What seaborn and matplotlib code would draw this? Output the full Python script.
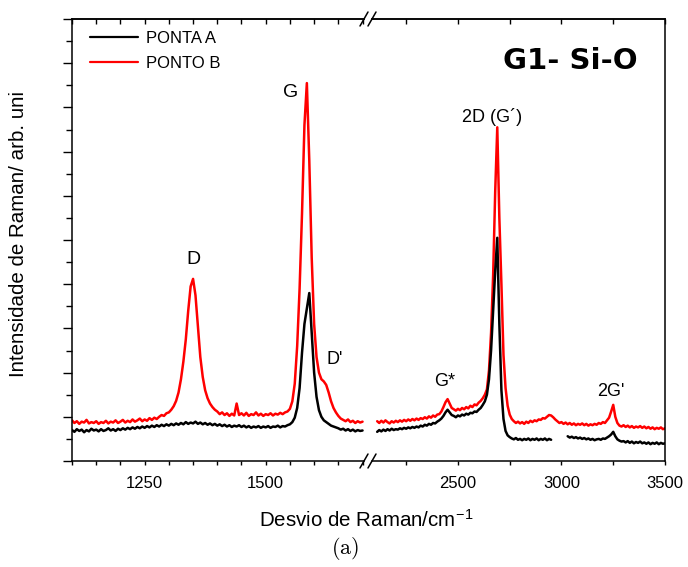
import numpy as np
import pandas as pd
import matplotlib
matplotlib.use("Agg")
import matplotlib.pyplot as plt
import seaborn as sns
from matplotlib.ticker import MultipleLocator, FixedLocator, NullFormatter
from matplotlib.lines import Line2D

# ---------------- data ----------------
series_names = ["PONTA A", "PONTO B"]
series_colors = ["#000000", "#ff0000"]

# left segment of the broken axis: 1100-1700 cm-1, step 5
raman_left = np.arange(1100, 1705, 5)
ponta_a_left = [
    0.70, 0.66, 0.72, 0.68, 0.71, 0.65, 0.70, 0.67, 0.73, 0.69,
    0.71, 0.67, 0.72, 0.68, 0.70, 0.74, 0.69, 0.72, 0.68, 0.73,
    0.70, 0.74, 0.71, 0.75, 0.72, 0.76, 0.73, 0.77, 0.74, 0.78,
    0.75, 0.79, 0.76, 0.80, 0.77, 0.81, 0.78, 0.82, 0.79, 0.83,
    0.80, 0.84, 0.81, 0.85, 0.82, 0.86, 0.83, 0.88, 0.84, 0.87,
    0.85, 0.89, 0.84, 0.87, 0.83, 0.86, 0.82, 0.85, 0.81, 0.84,
    0.80, 0.83, 0.79, 0.82, 0.78, 0.81, 0.77, 0.80, 0.78, 0.81,
    0.77, 0.80, 0.76, 0.79, 0.75, 0.78, 0.76, 0.79, 0.75, 0.78,
    0.76, 0.79, 0.75, 0.78, 0.77, 0.80, 0.76, 0.79, 0.78, 0.81,
    0.83, 0.88, 0.98, 1.20, 1.65, 2.45, 3.10, 3.45, 3.80, 2.90,
    2.00, 1.45, 1.15, 1.00, 0.92, 0.88, 0.84, 0.80, 0.78, 0.76,
    0.74, 0.71, 0.73, 0.69, 0.72, 0.68, 0.71, 0.67, 0.70, 0.68,
    0.69,
]
ponto_b_left = [
    0.92, 0.86, 0.90, 0.84, 0.89, 0.87, 0.93, 0.85, 0.88, 0.86,
    0.90, 0.84, 0.88, 0.86, 0.91, 0.85, 0.89, 0.87, 0.92, 0.86,
    0.89, 0.93, 0.87, 0.91, 0.88, 0.94, 0.89, 0.92, 0.96, 0.90,
    0.94, 0.91, 0.97, 0.93, 0.98, 0.95, 1.00, 1.04, 1.02, 1.08,
    1.10, 1.16, 1.24, 1.36, 1.55, 1.85, 2.25, 2.75, 3.40, 3.95,
    4.12, 3.75, 3.05, 2.35, 1.90, 1.60, 1.42, 1.30, 1.22, 1.16,
    1.12, 1.06, 1.10, 1.04, 1.08, 1.02, 1.07, 1.03, 1.30, 1.04,
    1.08, 1.03, 1.09, 1.02, 1.06, 1.04, 1.10, 1.03, 1.07, 1.02,
    1.06, 1.04, 1.08, 1.03, 1.07, 1.05, 1.09, 1.06, 1.10, 1.12,
    1.18, 1.35, 1.75, 2.60, 3.90, 5.60, 7.60, 8.55, 6.80, 4.60,
    3.10, 2.35, 2.00, 1.85, 1.80, 1.72, 1.55, 1.35, 1.20, 1.10,
    1.02, 0.96, 0.93, 0.90, 0.94, 0.88, 0.91, 0.86, 0.90, 0.87,
    0.89,
]

# right segment of the broken axis: 2110-3500 cm-1, step 10 (nan = no data)
raman_right = np.arange(2110, 3510, 10)
ponta_a_right = [
    0.66, 0.70, 0.67, 0.71, 0.68, 0.72, 0.69, 0.73, 0.70, 0.72,
    0.71, 0.74, 0.72, 0.75, 0.73, 0.76, 0.74, 0.77, 0.75, 0.78,
    0.76, 0.80, 0.78, 0.82, 0.80, 0.84, 0.82, 0.86, 0.85, 0.89,
    0.92, 0.96, 1.02, 1.10, 1.16, 1.10, 1.04, 1.02, 0.99, 1.03,
    1.01, 1.05, 1.03, 1.07, 1.05, 1.09, 1.08, 1.12, 1.11, 1.16,
    1.20, 1.27, 1.35, 1.50, 1.85, 2.50, 3.40, 4.30, 5.05, 3.10,
    1.60, 0.95, 0.68, 0.58, 0.54, 0.51, 0.49, 0.52, 0.48, 0.50,
    0.47, 0.50, 0.48, 0.51, 0.47, 0.50, 0.48, 0.51, 0.47, 0.50,
    0.48, 0.51, 0.47, 0.50, 0.48, np.nan, np.nan, np.nan, np.nan, np.nan,
    np.nan, np.nan, 0.56, 0.53, 0.55, 0.52, 0.54, 0.51, 0.53, 0.50,
    0.52, 0.49, 0.51, 0.48, 0.50, 0.47, 0.49, 0.50, 0.48, 0.51,
    0.50, 0.53, 0.56, 0.60, 0.66, 0.56, 0.49, 0.46, 0.44, 0.45,
    0.42, 0.45, 0.41, 0.44, 0.40, 0.43, 0.41, 0.44, 0.40, 0.42,
    0.39, 0.42, 0.38, 0.41, 0.39, 0.42, 0.38, 0.41, 0.39, 0.40,
]
ponto_b_right = [
    0.90, 0.86, 0.91, 0.87, 0.92, 0.88, 0.85, 0.90, 0.87, 0.91,
    0.88, 0.92, 0.89, 0.93, 0.90, 0.94, 0.91, 0.95, 0.92, 0.96,
    0.93, 0.97, 0.95, 0.99, 0.96, 1.01, 0.98, 1.03, 1.00, 1.05,
    1.06, 1.12, 1.22, 1.33, 1.40, 1.30, 1.20, 1.17, 1.14, 1.18,
    1.15, 1.20, 1.17, 1.22, 1.19, 1.25, 1.22, 1.28, 1.26, 1.32,
    1.36, 1.42, 1.50, 1.62, 2.05, 2.90, 4.20, 6.10, 7.55, 5.50,
    4.00, 2.40, 1.65, 1.25, 1.05, 0.95, 0.90, 0.86, 0.89, 0.85,
    0.88, 0.84, 0.89, 0.86, 0.91, 0.88, 0.92, 0.90, 0.94, 0.93,
    0.97, 0.96, 1.00, 1.04, 1.03, 0.99, 0.94, 0.90, 0.86, 0.88,
    0.84, 0.87, 0.83, 0.86, 0.82, 0.85, 0.81, 0.84, 0.82, 0.85,
    0.81, 0.84, 0.80, 0.83, 0.81, 0.84, 0.82, 0.86, 0.84, 0.88,
    0.86, 0.92, 0.98, 1.12, 1.27, 1.00, 0.86, 0.80, 0.78, 0.81,
    0.77, 0.80, 0.76, 0.79, 0.75, 0.78, 0.76, 0.79, 0.75, 0.78,
    0.74, 0.77, 0.73, 0.76, 0.72, 0.75, 0.73, 0.76, 0.72, 0.74,
]

left_ticks = [1250, 1500]
right_ticks = [2500, 3000, 3500]
right_minor = [2250, 2750, 3250]

peak_labels = ["D", "G", "D'"]
peak_label_x = [1350, 1551, 1643]
peak_label_y = [4.55, 8.33, 2.29]
peak_labels_r = ["G*", "2D (G\u00b4)", "2G'"]
peak_label_x_r = [2437, 2664, 3239]
peak_label_y_r = [1.79, 7.78, 1.58]

assert len(ponta_a_left) == len(raman_left) == len(ponto_b_left)
assert len(ponta_a_right) == len(raman_right) == len(ponto_b_right)


def long_frame(x, a, b):
    df = pd.DataFrame({"x": x, series_names[0]: a, series_names[1]: b})
    df = df.melt(id_vars="x", var_name="serie", value_name="y")
    # separate contiguous runs so that gaps (nan) are not bridged
    df["seg"] = df.groupby("serie")["y"].transform(lambda s: s.isna().cumsum())
    return df.dropna()


df_left = long_frame(raman_left, ponta_a_left, ponto_b_left)
df_right = long_frame(raman_right, ponta_a_right, ponto_b_right)

# ---------------- style ----------------
sns.set_style("white")
plt.rcParams["font.family"] = ["Liberation Sans", "DejaVu Sans"]
plt.rcParams["mathtext.fontset"] = "cm"
plt.rcParams["axes.linewidth"] = 1.1
plt.rcParams["text.color"] = "black"
plt.rcParams["axes.labelcolor"] = "black"
plt.rcParams["xtick.color"] = "black"
plt.rcParams["ytick.color"] = "black"
plt.rcParams["axes.edgecolor"] = "black"

W, H = 688, 567
fig = plt.figure(figsize=(W / 100, H / 100), dpi=100)

def fx(px):
    return px / W

def fy(py):
    return 1 - py / H

ax_l = fig.add_axes([fx(72), fy(461), fx(364) - fx(72), fy(19) - fy(461)])
ax_r = fig.add_axes([fx(372), fy(461), fx(665) - fx(372), fy(19) - fy(461)])

for ax, df in ((ax_l, df_left), (ax_r, df_right)):
    for name, col in zip(series_names[::-1], series_colors[::-1]):
        sub = df[df["serie"] == name]
        sns.lineplot(data=sub, x="x", y="y", units="seg", estimator=None,
                     color=col, linewidth=1.8, ax=ax, legend=False)
    ax.set_ylim(0, 10)
    ax.set_xlabel("")
    ax.set_ylabel("")
    for sp in ax.spines.values():
        sp.set_color("black")

ax_l.set_xlim(1100, 1703)
ax_r.set_xlim(2085, 3500)

ax_l.spines["right"].set_visible(False)
ax_r.spines["left"].set_visible(False)
ax_r.spines["right"].set_visible(True)

ax_l.xaxis.set_major_locator(FixedLocator(left_ticks))
ax_l.xaxis.set_minor_locator(MultipleLocator(50))
ax_r.xaxis.set_major_locator(FixedLocator(right_ticks))
ax_r.xaxis.set_minor_locator(FixedLocator(right_minor))

for ax in (ax_l, ax_r):
    ax.tick_params(axis="x", which="both", direction="out", length=3,
                   width=1.0, labelsize=12, pad=8, colors="black",
                   bottom=True, top=False)
    sec = ax.secondary_xaxis("top")
    sec.xaxis.set_major_locator(ax.xaxis.get_major_locator())
    sec.xaxis.set_minor_locator(ax.xaxis.get_minor_locator())
    sec.xaxis.set_major_formatter(NullFormatter())
    sec.tick_params(axis="x", which="both", direction="in", length=3.5, width=1.0,
                    colors="black")
    sec.spines["top"].set_linewidth(1.1)
    sec.spines["top"].set_color("black")

ax_l.yaxis.set_major_locator(MultipleLocator(1))
ax_l.yaxis.set_minor_locator(MultipleLocator(0.5))
ax_l.yaxis.set_major_formatter(NullFormatter())
ax_l.tick_params(axis="y", which="major", direction="out", length=6.5, width=1.0, left=True)
ax_l.tick_params(axis="y", which="minor", direction="out", length=4, width=1.0, left=True)
ax_r.tick_params(axis="y", which="both", left=False, right=False, labelleft=False)

# axis labels
ax_l.set_ylabel("Intensidade de Raman/ arb. uni", fontsize=14.8, color="black")
ax_l.yaxis.set_label_coords((28 - 72) / 292, (461 - 234) / 442)
fig.text(fx(366), fy(521), "Desvio de Raman/cm$^{\\mathregular{-1}}$", fontsize=14.8,
         ha="center", va="center", color="black")
fig.text(fx(345), fy(549), r"$\mathrm{(a)}$", fontsize=16, ha="center", va="center",
         color="black")

# peak labels
for s, x, y in zip(peak_labels, peak_label_x, peak_label_y):
    ax_l.text(x, y, s, fontsize=14 if s != "D'" else 13, ha="center", va="center",
              color="black")
for s, x, y in zip(peak_labels_r, peak_label_x_r, peak_label_y_r):
    ax_r.text(x, y, s, fontsize=13, ha="center", va="center", color="black")

fig.text(fx(570), fy(61), "G1- Si-O", fontsize=21, weight="bold",
         family="DejaVu Sans", ha="center", va="center", color="black")

# legend
handles = [Line2D([], [], color=c, linewidth=1.6) for c in series_colors]
ax_l.legend(handles, series_names, loc="upper left",
            bbox_to_anchor=((90 - 72) / 292, (461 - 31) / 442),
            frameon=False, fontsize=12, handlelength=2.9, handletextpad=0.45,
            labelspacing=0.62, borderaxespad=0, borderpad=0, labelcolor="black")

# axis break marks
for yb in (19, 461):
    for xc in (364, 372):
        fig.add_artist(Line2D([fx(xc - 4), fx(xc + 4)], [fy(yb + 7), fy(yb - 7)],
                              color="black", linewidth=1.1))

fig.savefig("out.png", dpi=100)
